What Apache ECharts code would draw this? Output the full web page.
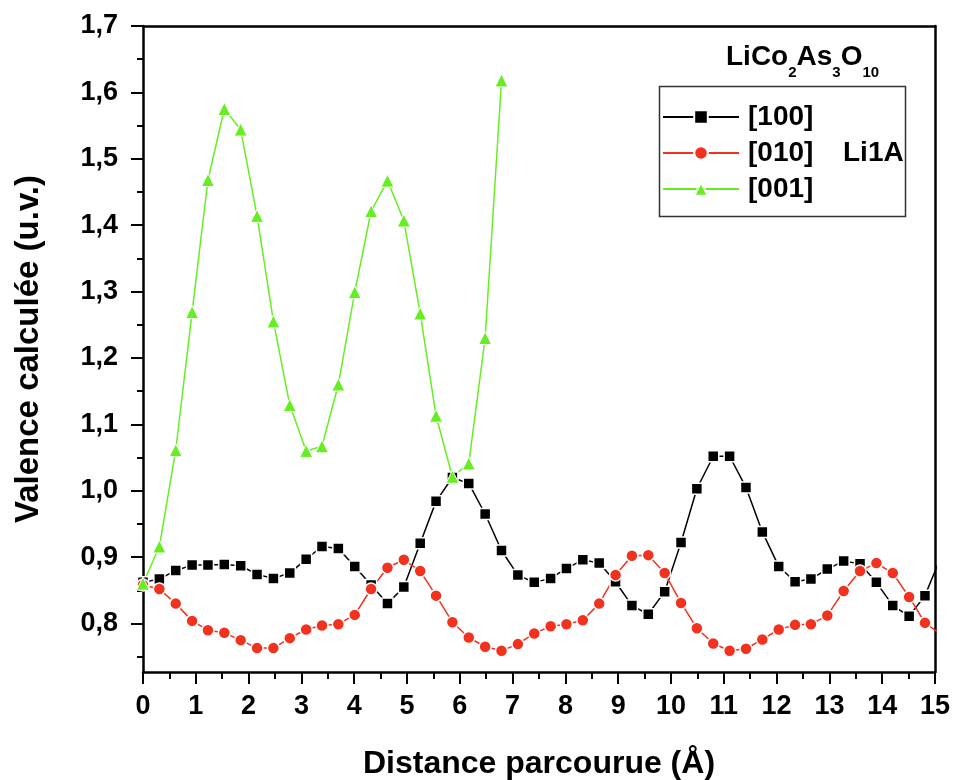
<!DOCTYPE html>
<html>
<head>
<meta charset="utf-8">
<title>LiCo2As3O10 - Li1A</title>
<script src="https://cdn.jsdelivr.net/npm/echarts@6/dist/echarts.min.js"></script>
<style>
	html, body { margin: 0; padding: 0; background: #fff; }
	#main { width: 953px; height: 780px; }
</style>
</head>
<body>
<div id="main"></div>
<script>
	// distance parcourue (A), shared by the three directions
	var dist = [0, 0.31, 0.62, 0.93, 1.23, 1.54, 1.85, 2.16, 2.47, 2.78,
		3.09, 3.39, 3.70, 4.01, 4.32, 4.63, 4.94, 5.25, 5.55, 5.86,
		6.17, 6.48, 6.79, 7.10, 7.41, 7.72, 8.02, 8.33, 8.64, 8.95,
		9.26, 9.57, 9.88, 10.19, 10.49, 10.80, 11.11, 11.42, 11.73, 12.04,
		12.35, 12.65, 12.96, 13.27, 13.58, 13.89, 14.20, 14.51, 14.81, 15.12];

	var v100 = [0.862, 0.867, 0.880, 0.888, 0.888, 0.889, 0.887, 0.874, 0.868, 0.876,
		0.897, 0.916, 0.913, 0.886, 0.858, 0.830, 0.855, 0.921, 0.984, 1.020,
		1.011, 0.965, 0.910, 0.873, 0.862, 0.868, 0.883, 0.896, 0.891, 0.863,
		0.827, 0.814, 0.848, 0.922, 1.003, 1.052, 1.052, 1.005, 0.938, 0.886,
		0.863, 0.867, 0.882, 0.894, 0.890, 0.862, 0.827, 0.811, 0.842, 0.902];

	var v010 = [0.858, 0.852, 0.830, 0.804, 0.790, 0.786, 0.775, 0.763, 0.763, 0.778,
		0.791, 0.797, 0.799, 0.813, 0.852, 0.884, 0.896, 0.879, 0.842, 0.802,
		0.779, 0.765, 0.759, 0.769, 0.785, 0.796, 0.799, 0.805, 0.830, 0.873,
		0.902, 0.903, 0.876, 0.831, 0.793, 0.770, 0.759, 0.762, 0.776, 0.791,
		0.798, 0.799, 0.812, 0.849, 0.879, 0.891, 0.876, 0.840, 0.801, 0.783];

	var v001 = [0.860, 0.916, 1.061, 1.269, 1.468, 1.575, 1.544, 1.414, 1.255, 1.129,
		1.060, 1.067, 1.160, 1.299, 1.421, 1.467, 1.407, 1.267, 1.113, 1.021,
		1.041, 1.230, 1.618];

	var yTicks = [0.8, 0.9, 1.0, 1.1, 1.2, 1.3, 1.4, 1.5, 1.6, 1.7];
	var yMinor = [0.75, 0.85, 0.95, 1.05, 1.15, 1.25, 1.35, 1.45, 1.55, 1.65];

	var font = 'Liberation Sans, Arial, sans-serif';

	function pairs(vals) {
		var out = [];
		for (var i = 0; i < vals.length; i++) {
			out.push([dist[i], vals[i]]);
		}
		return out;
	}

	var myChart = echarts.init(document.getElementById('main'));

	var option = {
		backgroundColor: '#fff',
		animation: false,
		textStyle: { fontFamily: font },
		grid: { left: 143, right: 18, top: 26, bottom: 108, containLabel: false, outerBoundsMode: 'none' },
		legend: {
			orient: 'vertical',
			left: 662,
			top: 103,
			padding: 0,
			itemWidth: 76,
			itemHeight: 17,
			itemGap: 8,
			textStyle: { fontSize: 28, fontWeight: 'bold', color: '#000', fontFamily: font, padding: [0, 0, 0, 4] },
			data: ['[100]', '[010]', '[001]']
		},
		xAxis: [{
			type: 'value',
			min: 0,
			max: 15,
			interval: 1,
			name: 'Distance parcourue (Å)',
			nameLocation: 'middle',
			nameGap: 76,
			nameTextStyle: { fontSize: 32, fontWeight: 'bold', color: '#000', fontFamily: font },
			axisLine: { lineStyle: { color: '#000', width: 2.5 } },
			axisTick: { length: 12, lineStyle: { color: '#000', width: 2 } },
			minorTick: { show: true, splitNumber: 2, length: 7, lineStyle: { color: '#000', width: 2 } },
			axisLabel: { margin: 21, fontSize: 27, fontWeight: 'bold', color: '#000', fontFamily: font },
			splitLine: { show: false }
		}, {
			// top frame
			type: 'value',
			position: 'top',
			min: 0,
			max: 15,
			axisLine: { lineStyle: { color: '#000', width: 2.5 } },
			axisTick: { show: false },
			axisLabel: { show: false },
			splitLine: { show: false }
		}],
		yAxis: [{
			type: 'value',
			min: 0.727,
			max: 1.7,
			name: 'Valence calculée (u.v.)',
			nameLocation: 'middle',
			nameGap: 98,
			nameTextStyle: { fontSize: 33, fontWeight: 'bold', color: '#000', fontFamily: font },
			axisLine: { show: true, lineStyle: { color: '#000', width: 2.5 } },
			axisTick: { show: true, length: 12, customValues: yTicks, lineStyle: { color: '#000', width: 2 } },
			axisLabel: {
				margin: 25, fontSize: 27, fontWeight: 'bold', color: '#000', fontFamily: font,
				customValues: yTicks,
				formatter: function (v) { return v.toFixed(1).replace('.', ','); }
			},
			splitLine: { show: false }
		}, {
			// minor ticks on the left
			type: 'value',
			position: 'left',
			offset: 0,
			min: 0.727,
			max: 1.7,
			axisLine: { show: false },
			axisTick: { show: true, length: 6, customValues: yMinor, lineStyle: { color: '#000', width: 2 } },
			axisLabel: { show: false },
			splitLine: { show: false }
		}, {
			// right frame
			type: 'value',
			position: 'right',
			min: 0.727,
			max: 1.7,
			axisLine: { show: true, lineStyle: { color: '#000', width: 2.5 } },
			axisTick: { show: false },
			axisLabel: { show: false },
			splitLine: { show: false }
		}],
		series: [{
			name: '[100]',
			type: 'line',
			symbol: 'rect',
			symbolSize: 11,
			lineStyle: { color: '#000', width: 1.5 },
			itemStyle: { color: '#000', borderColor: '#fff', borderWidth: 1.5 },
			data: pairs(v100)
		}, {
			name: '[010]',
			type: 'line',
			symbol: 'circle',
			symbolSize: 12,
			lineStyle: { color: '#f0321e', width: 1.5 },
			itemStyle: { color: '#f0321e', borderColor: '#fff', borderWidth: 1.5 },
			data: pairs(v010)
		}, {
			name: '[001]',
			type: 'line',
			symbol: 'triangle',
			symbolSize: 13,
			lineStyle: { color: '#66ee22', width: 1.5 },
			itemStyle: { color: '#66ee22', borderColor: '#fff', borderWidth: 1 },
			data: pairs(v001)
		}],
		graphic: [{
			type: 'rect',
			shape: { x: 659.5, y: 86.5, width: 246, height: 130 },
			style: { fill: 'none', stroke: '#333', lineWidth: 1.5 },
			z: 10
		}, {
			type: 'text',
			x: 843,
			y: 153,
			style: {
				text: 'Li1A',
				fontSize: 28, fontWeight: 'bold', fontFamily: font, fill: '#000',
				verticalAlign: 'middle'
			},
			z: 10
		}, {
			type: 'text',
			x: 726,
			y: 57,
			style: {
				text: '{m|LiCo}{s|2}{m|As}{s|3}{m|O}{s|10}',
				verticalAlign: 'middle',
				rich: {
					m: { fontSize: 28, fontWeight: 'bold', fontFamily: font, fill: '#000' },
					s: { fontSize: 15, fontWeight: 'bold', fontFamily: font, fill: '#000', padding: [32, 0, 0, 0] }
				}
			},
			z: 10
		}]
	};

	myChart.setOption(option);
</script>
</body>
</html>
